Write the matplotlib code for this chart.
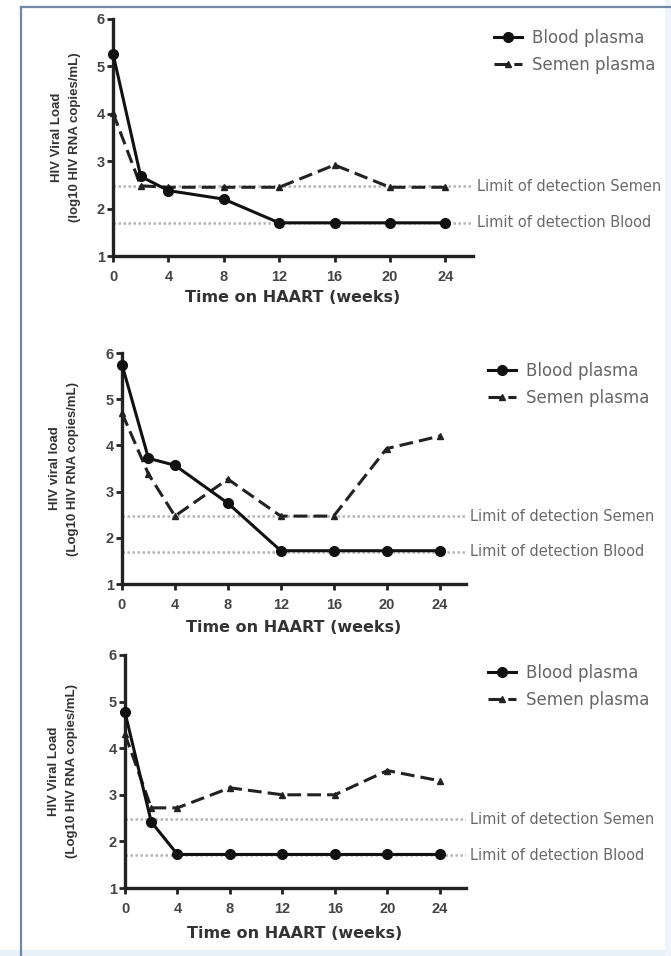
import numpy as np
import matplotlib
matplotlib.use("Agg")
import matplotlib.pyplot as plt
from matplotlib.patches import Rectangle

plt.rcParams['font.family'] = ['Liberation Sans', 'DejaVu Sans']

weeks = [0, 2, 4, 8, 12, 16, 20, 24]
week_ticks = [0, 4, 8, 12, 16, 20, 24]

blood_1 = [5.27, 2.68, 2.38, 2.2, 1.7, 1.7, 1.7, 1.7]
semen_1 = [4.02, 2.48, 2.45, 2.45, 2.45, 2.92, 2.45, 2.45]

blood_2 = [5.75, 3.72, 3.57, 2.75, 1.72, 1.72, 1.72, 1.72]
semen_2 = [4.7, 3.38, 2.47, 3.27, 2.47, 2.47, 3.93, 4.2]

blood_3 = [4.77, 2.42, 1.72, 1.72, 1.72, 1.72, 1.72, 1.72]
semen_3 = [4.3, 2.72, 2.72, 3.15, 3.0, 3.0, 3.52, 3.3]

lod_semen = 2.47
lod_blood = 1.7

ylabels = ["HIV Viral Load\n(log10 HIV RNA copies/mL)",
           "HIV viral load\n(Log10 HIV RNA copies/mL)",
           "HIV Viral Load\n(Log10 HIV RNA copies/mL)"]
xlabel = "Time on HAART (weeks)"

W, H = 671, 956
fig = plt.figure(figsize=(W / 100, H / 100), dpi=100)

# фон и рамка
fig.patches.append(Rectangle((0, 0), 1, 1, transform=fig.transFigure,
                             facecolor='white', edgecolor='none', zorder=-10))
fig.patches.append(Rectangle((0, 0), 1, 1 - 950 / H, transform=fig.transFigure,
                             facecolor='#e8f0f8', edgecolor='none', zorder=-9))
fig.patches.append(Rectangle((665 / W, 0), 1, 1, transform=fig.transFigure,
                             facecolor='#eef4fa', edgecolor='none', zorder=-9))
fig.lines.append(plt.Line2D([21 / W, 21 / W], [0, 1 - 7 / H], transform=fig.transFigure,
                            color='#7088a4', lw=1.6))
fig.lines.append(plt.Line2D([21 / W, 1], [1 - 7 / H, 1 - 7 / H], transform=fig.transFigure,
                            color='#7088a4', lw=1.6))

# (left, right, top, bottom, legend top, legend left, xlabel y, ylabel x) in pixels
panels = [
    (113, 473, 19, 256, 29, 494, 298, 66),
    (122, 466, 353, 584, 362, 488, 627, 64),
    (125, 466, 655, 888, 664, 488, 934, 63),
]
data = [(blood_1, semen_1), (blood_2, semen_2), (blood_3, semen_3)]

for i, ((l, r, t, b, lt, ll, xl, yl), (blood, semen)) in enumerate(zip(panels, data)):
    ax = fig.add_axes([l / W, 1 - b / H, (r - l) / W, (b - t) / H])
    ax.set_xlim(0, 26)
    ax.set_ylim(1, 6)
    for s in ['top', 'right']:
        ax.spines[s].set_visible(False)
    for s in ['left', 'bottom']:
        ax.spines[s].set_linewidth(2.4)
        ax.spines[s].set_color('#222222')
    ax.set_xticks(week_ticks)
    ax.set_yticks([1, 2, 3, 4, 5, 6])
    ax.tick_params(width=2, length=4, labelsize=10.5, colors='#222222')
    ax.tick_params(axis='x', pad=6)
    ax.tick_params(axis='y', pad=2)
    for lab in ax.get_xticklabels() + ax.get_yticklabels():
        lab.set_fontweight('bold')
        lab.set_color('#444444')

    ax.axhline(lod_semen, color='#b4b4b4', ls=(0, (1, 1)), lw=1.8, zorder=1)
    ax.axhline(lod_blood, color='#b4b4b4', ls=(0, (1, 1)), lw=1.8, zorder=1)
    ax.text(26.3, lod_semen, "Limit of detection Semen", fontsize=10.5, color='#6a6a6a',
            va='center', ha='left', clip_on=False, family='DejaVu Sans')
    ax.text(26.3, lod_blood, "Limit of detection Blood", fontsize=10.5, color='#6a6a6a',
            va='center', ha='left', clip_on=False, family='DejaVu Sans')

    ax.plot(weeks, blood, color='#111111', lw=2.2, marker='o', ms=7,
            label='Blood plasma', clip_on=False, zorder=4)
    ax.plot(weeks, semen, color='#222222', lw=2.2, ls=(0, (4.5, 2)), marker='^', ms=5,
            label='Semen plasma', clip_on=False, zorder=3)

    fig.text(yl / W, 1 - (t + b) / 2 / H, ylabels[i], rotation=90, fontsize=9.5,
             fontweight='bold', color='#333333', ha='center', va='center',
             multialignment='center', linespacing=1.75)
    fig.text((l + (r - l) * 12.95 / 26) / W, 1 - xl / H, xlabel, fontsize=11.5,
             fontweight='bold', color='#333333', ha='center', va='center',
             family='DejaVu Sans')

    leg = ax.legend(loc='upper left', bbox_to_anchor=(ll / W, 1 - lt / H),
                    bbox_transform=fig.transFigure, frameon=False,
                    prop={'family': 'DejaVu Sans', 'size': 12},
                    handlelength=1.7, handletextpad=0.6, borderpad=0, borderaxespad=0,
                    labelspacing=0.55)
    for txt in leg.get_texts():
        txt.set_color('#666666')

fig.savefig('out.png', dpi=100)
